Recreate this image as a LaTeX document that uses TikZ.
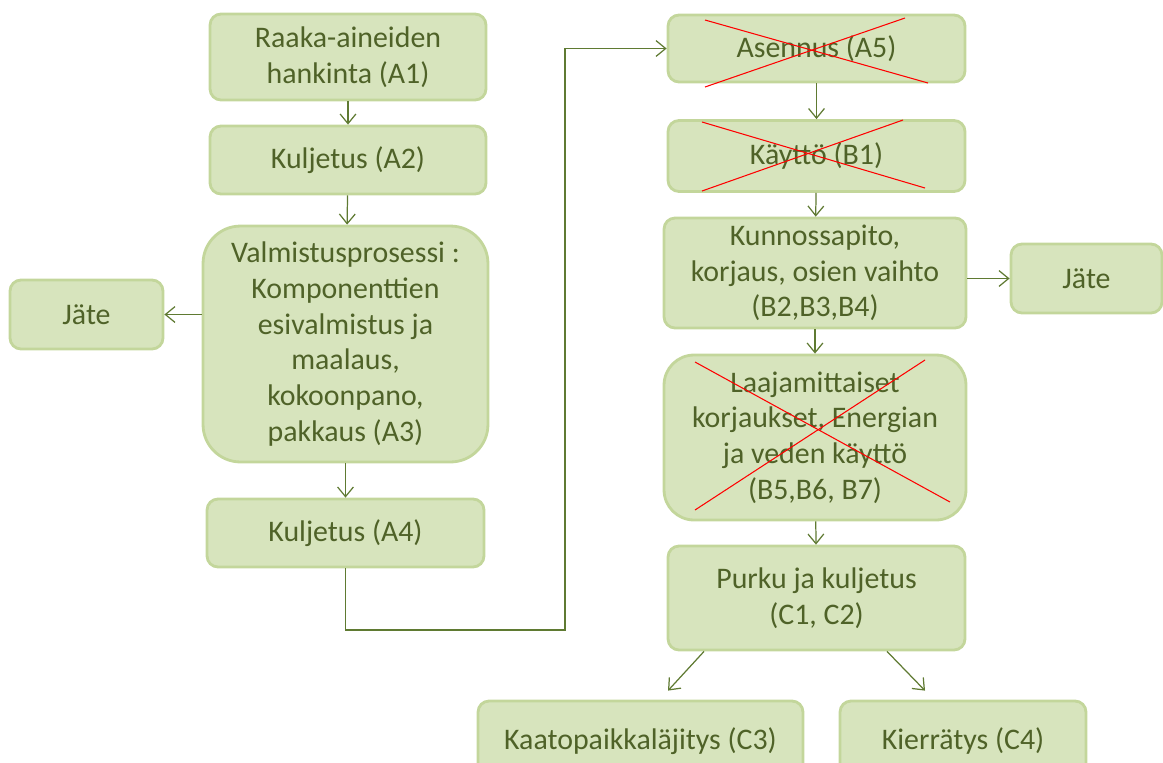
\documentclass[tikz,border=0pt]{standalone}
\usepackage{fontspec}
\setmainfont{Carlito}
\usetikzlibrary{arrows.meta,calc}
\definecolor{boxfill}{HTML}{D7E4BD}
\definecolor{boxline}{HTML}{C3D69B}
\definecolor{boxtext}{HTML}{4F6228}
\definecolor{connline}{HTML}{5F7A32}
\tikzset{
  box/.style={draw=boxline, fill=boxfill, line width=1.6pt, rounded corners=0.22cm,
    text=boxtext, align=center, inner sep=2pt,
    font=\fontsize{17}{20.3}\selectfont},
  conn/.style={draw=connline, line width=0.7pt, -{Straight Barb[length=5.5pt,width=9pt]}},
  cross/.style={draw=red, line width=0.6pt},
}
\begin{document}
\begin{tikzpicture}[x=0.02cm,y=-0.02cm]
\useasboundingbox (0,0) rectangle (1163,762);

% Left column
\node[box, minimum width=5.52cm, minimum height=1.72cm] (A1) at (348,57) {Raaka-aineiden\\hankinta (A1)};%
\node[box, minimum width=5.52cm, minimum height=1.36cm] (A2) at (348,160) {Kuljetus (A2)};%
\node[box, minimum width=5.70cm, minimum height=4.72cm, rounded corners=0.75cm] (A3) at (345.5,344)
  {Valmistusprosessi :\\Komponenttien\\esivalmistus ja\\maalaus,\\kokoonpano,\\pakkaus (A3)};%
\node[box, minimum width=3.06cm, minimum height=1.38cm] (JL) at (86.5,314.5) {Jäte};%
\node[box, minimum width=5.54cm, minimum height=1.36cm] (A4) at (345.5,533) {Kuljetus (A4)};%

% Right column
\node[box, minimum width=5.94cm, minimum height=1.34cm] (A5) at (816.5,48.5) {Asennus (A5)};%
\node[box, minimum width=5.94cm, minimum height=1.42cm] (B1) at (816.5,156) {Käyttö (B1)};%
\node[box, minimum width=6.04cm, minimum height=2.20cm] (B2) at (815,273) {Kunnossapito,\\korjaus, osien vaihto\\(B2,B3,B4)};%
\node[box, minimum width=3.02cm, minimum height=1.38cm] (JR) at (1086.5,278.5) {Jäte};%
\node[box, minimum width=6.04cm, minimum height=3.30cm, rounded corners=0.6cm] (B5) at (815,437.5)
  {Laajamittaiset\\korjaukset, Energian\\ja veden käyttö\\(B5,B6, B7)};%
\node[box, minimum width=5.94cm, minimum height=2.08cm] (C1) at (816.5,598) {Purku ja kuljetus\\(C1, C2)};%

% End of life
\node[box, minimum width=6.50cm, minimum height=1.60cm] (C3) at (640.5,741) {Kaatopaikkaläjitys (C3)};%
\node[box, minimum width=4.92cm, minimum height=1.60cm] (C4) at (963,741) {Kierrätys (C4)};%

% Connectors
\coordinate (bend) at (565,630);
\draw[conn] (A1) -- (A2);%
\draw[conn] (A2) -- (A3);%
\draw[conn] (A3.west |- JL.east) -- (JL.east);%
\draw[conn] (A3) -- (A4);%
\draw[conn] (A4.south) |- (bend) |- (A5.west);%
\draw[conn] (A5) -- (B1);%
\draw[conn] (B1) -- (B2);%
\draw[conn] (B2.east |- JR.west) -- (JR.west);%
\draw[conn] (B2) -- (B5);%
\draw[conn] (B5) -- (C1);%
\draw[conn] ([xshift=-2.25cm]C1.south) -- ([xshift=0.55cm,yshift=0.18cm]C3.north);%
\draw[conn] ([xshift=1.41cm]C1.south) -- ([xshift=-0.76cm,yshift=0.18cm]C4.north);%

% Crossed out stages
\draw[cross] (705,20) -- (928,83);%
\draw[cross] (705,87) -- (905,18);%
\draw[cross] (702,122) -- (925,188);%
\draw[cross] (702,191) -- (903,120);%
\draw[cross] (695,362) -- (950,502);%
\draw[cross] (695,510) -- (925,360);%
\end{tikzpicture}
\end{document}
